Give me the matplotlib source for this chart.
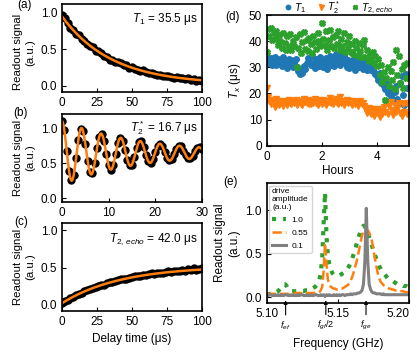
import numpy as np
import matplotlib
matplotlib.use('Agg')
import matplotlib.pyplot as plt

plt.rcParams['font.family'] = ['Liberation Sans', 'DejaVu Sans']
plt.rcParams['font.size'] = 8.5
plt.rcParams['mathtext.fontset'] = 'custom'
plt.rcParams['mathtext.rm'] = 'Liberation Sans'
plt.rcParams['mathtext.it'] = 'Liberation Sans:italic'
plt.rcParams['xtick.direction'] = 'in'
plt.rcParams['ytick.direction'] = 'in'
plt.rcParams['xtick.major.size'] = 3
plt.rcParams['ytick.major.size'] = 3
plt.rcParams['axes.linewidth'] = 1.2

# ---- (a) T1 decay ----
t_a = np.arange(0, 101, 2)
sig_a = [0.97, 0.93, 0.86, 0.79, 0.77, 0.71, 0.69, 0.64, 0.62, 0.57,
         0.55, 0.53, 0.48, 0.47, 0.45, 0.41, 0.40, 0.36, 0.36, 0.33,
         0.32, 0.31, 0.28, 0.28, 0.25, 0.26, 0.23, 0.22, 0.20, 0.21,
         0.19, 0.17, 0.18, 0.16, 0.15, 0.15, 0.14, 0.13, 0.13, 0.12,
         0.11, 0.12, 0.10, 0.11, 0.09, 0.10, 0.08, 0.09, 0.07, 0.08, 0.07]
T1 = 35.5

# ---- (b) Ramsey ----
t_b = np.arange(0, 30.01, 0.5)
sig_b = [1.10, 0.97, 0.68, 0.39, 0.26, 0.33, 0.57, 0.83, 0.99, 0.96,
         0.77, 0.53, 0.37, 0.36, 0.50, 0.71, 0.88, 0.92, 0.81, 0.63,
         0.47, 0.41, 0.48, 0.63, 0.79, 0.86, 0.82, 0.69, 0.55, 0.47,
         0.48, 0.59, 0.71, 0.80, 0.81, 0.73, 0.62, 0.53, 0.51, 0.56,
         0.66, 0.75, 0.78, 0.74, 0.66, 0.58, 0.54, 0.56, 0.63, 0.70,
         0.75, 0.74, 0.68, 0.62, 0.57, 0.57, 0.61, 0.67, 0.72, 0.73, 0.70]
T2s = 16.7
ramsey_period = 4.2

# ---- (c) echo ----
t_c = np.arange(0, 101, 2)
sig_c = [0.02, 0.05, 0.06, 0.09, 0.10, 0.13, 0.15, 0.16, 0.18, 0.20,
         0.21, 0.22, 0.24, 0.25, 0.27, 0.27, 0.29, 0.30, 0.31, 0.32,
         0.33, 0.34, 0.35, 0.35, 0.36, 0.37, 0.38, 0.38, 0.39, 0.40,
         0.40, 0.41, 0.42, 0.41, 0.43, 0.43, 0.43, 0.44, 0.45, 0.44,
         0.46, 0.45, 0.46, 0.47, 0.45, 0.48, 0.47, 0.49, 0.47, 0.48, 0.49]
T2e = 42.0

# ---- (d) stability over time ----
hours = np.arange(0, 5.11, 0.05)
t1_hist = [34.0, 31.5, 32.8, 33.5, 31.0, 32.2, 34.0, 30.8, 33.0, 31.8,
           32.5, 30.5, 33.8, 31.2, 32.0, 29.8, 33.2, 31.5, 32.6, 30.2,
           31.8, 33.0, 30.0, 28.5, 27.6, 29.2, 28.0, 30.6, 29.5, 31.8,
           33.5, 32.0, 30.8, 34.5, 31.6, 29.8, 33.0, 32.2, 30.5, 34.0,
           32.8, 30.0, 31.5, 33.6, 29.2, 32.0, 34.2, 31.0, 33.0, 30.4,
           35.0, 32.5, 33.8, 31.0, 36.0, 33.2, 34.5, 31.8, 30.2, 32.6,
           29.8, 31.5, 30.5, 32.8, 29.0, 31.2, 33.0, 30.0, 32.2, 31.0,
           29.5, 32.0, 30.8, 28.8, 31.5, 30.2, 29.0, 31.0, 28.2, 27.5,
           26.5, 25.0, 27.8, 24.0, 25.5, 23.0, 21.5, 24.5, 20.0, 22.5,
           19.0, 21.0, 17.5, 20.5, 23.0, 18.0, 16.5, 24.0, 26.5, 19.5,
           15.5, 27.5, 22.0]
t2s_hist = [22.0, 18.5, 17.0, 15.8, 17.5, 16.2, 14.8, 17.8, 16.0, 15.5,
            17.2, 16.5, 15.2, 17.0, 16.8, 15.5, 17.6, 16.2, 15.8, 17.0,
            16.4, 17.5, 15.6, 16.8, 17.2, 16.0, 15.4, 17.8, 16.6, 16.2,
            17.4, 16.0, 15.8, 17.0, 16.5, 18.0, 16.2, 15.6, 17.3, 16.8,
            16.0, 17.6, 16.4, 15.5, 17.0, 16.8, 18.2, 16.3, 15.8, 17.4,
            16.6, 17.8, 16.0, 18.8, 16.5, 17.2, 15.6, 16.9, 17.5, 16.2,
            17.0, 16.4, 15.5, 17.2, 16.0, 16.8, 15.2, 16.5, 17.0, 15.8,
            16.2, 15.0, 13.8, 12.6, 14.5, 13.0, 12.0, 14.2, 11.5, 13.5,
            12.5, 14.0, 11.0, 13.2, 12.2, 14.8, 13.0, 16.2, 12.0, 15.0,
            16.8, 13.5, 11.8, 15.5, 12.8, 14.2, 16.5, 12.5, 11.2, 15.8,
            13.0, 16.5, 12.2]
t2e_hist = [36.0, 44.5, 42.0, 45.0, 40.5, 43.2, 41.0, 44.0, 38.5, 42.5,
            40.0, 37.5, 43.0, 39.2, 36.5, 41.8, 38.0, 42.6, 36.8, 40.2,
            38.0, 41.5, 30.0, 37.2, 42.8, 35.5, 39.8, 43.5, 37.0, 40.6,
            36.2, 41.2, 38.8, 35.5, 42.0, 39.5, 37.0, 43.0, 40.2, 38.0,
            46.8, 41.0, 38.5, 43.8, 36.8, 40.5, 44.2, 38.2, 41.5, 37.5,
            42.5, 39.0, 44.0, 36.5, 41.0, 38.2, 43.2, 35.8, 39.5, 37.2,
            41.8, 36.0, 38.8, 35.2, 40.0, 37.5, 34.5, 39.2, 36.2, 33.8,
            38.5, 40.5, 34.0, 36.8, 32.5, 35.5, 33.0, 36.0, 31.8, 34.5,
            30.5, 33.2, 27.0, 31.0, 24.5, 28.2, 17.5, 26.0, 30.0, 22.8,
            28.5, 25.0, 32.0, 21.5, 36.5, 27.0, 34.5, 24.0, 29.5, 22.0,
            30.8, 26.0, 31.5]

# ---- (e) spectroscopy ----
freq = np.arange(5.100, 5.2005, 0.001)
spec_10 = [0.03, 0.03, 0.04, 0.04, 0.04, 0.05, 0.05, 0.06, 0.07, 0.09,
           0.11, 0.13, 0.15, 0.15, 0.13, 0.10, 0.08, 0.07, 0.07, 0.07,
           0.07, 0.07, 0.07, 0.07, 0.07, 0.07, 0.07, 0.08, 0.08, 0.08,
           0.09, 0.09, 0.10, 0.11, 0.12, 0.14, 0.16, 0.20, 0.28, 0.45,
           0.85, 1.20, 0.70, 0.48, 0.38, 0.32, 0.28, 0.26, 0.25, 0.25,
           0.25, 0.25, 0.26, 0.27, 0.28, 0.29, 0.31, 0.33, 0.36, 0.40,
           0.44, 0.49, 0.54, 0.60, 0.66, 0.71, 0.76, 0.80, 0.82, 0.81,
           0.78, 0.74, 0.69, 0.64, 0.59, 0.54, 0.49, 0.44, 0.40, 0.36,
           0.33, 0.30, 0.28, 0.26, 0.24, 0.22, 0.21, 0.20, 0.19, 0.18,
           0.17, 0.16, 0.15, 0.15, 0.14, 0.14, 0.13, 0.13, 0.13, 0.12, 0.12]
spec_055 = [0.04, 0.04, 0.04, 0.04, 0.04, 0.04, 0.04, 0.04, 0.04, 0.04,
            0.04, 0.04, 0.04, 0.04, 0.04, 0.04, 0.04, 0.04, 0.04, 0.04,
            0.05, 0.05, 0.05, 0.05, 0.05, 0.05, 0.05, 0.05, 0.05, 0.05,
            0.05, 0.05, 0.05, 0.05, 0.05, 0.05, 0.05, 0.06, 0.08, 0.12,
            0.30, 0.62, 0.38, 0.20, 0.15, 0.12, 0.11, 0.10, 0.10, 0.09,
            0.09, 0.09, 0.10, 0.10, 0.11, 0.12, 0.13, 0.14, 0.16, 0.19,
            0.23, 0.28, 0.34, 0.40, 0.47, 0.55, 0.63, 0.71, 0.76, 0.78,
            0.78, 0.77, 0.74, 0.70, 0.64, 0.55, 0.45, 0.36, 0.28, 0.22,
            0.18, 0.16, 0.14, 0.13, 0.12, 0.11, 0.10, 0.10, 0.09, 0.09,
            0.08, 0.08, 0.08, 0.07, 0.07, 0.07, 0.07, 0.06, 0.06, 0.06, 0.06]
spec_01 = [0.03, 0.02, 0.03, 0.03, 0.02, 0.02, 0.03, 0.02, 0.03, 0.02,
           0.03, 0.02, 0.02, 0.03, 0.03, 0.02, 0.02, 0.03, 0.02, 0.03,
           0.02, 0.02, 0.03, 0.02, 0.03, 0.03, 0.02, 0.02, 0.03, 0.02,
           0.02, 0.03, 0.02, 0.02, 0.03, 0.03, 0.02, 0.02, 0.03, 0.02,
           0.03, 0.01, 0.03, 0.02, 0.03, 0.02, 0.02, 0.03, 0.02, 0.03,
           0.02, 0.03, 0.02, 0.03, 0.03, 0.02, 0.03, 0.03, 0.03, 0.04,
           0.03, 0.04, 0.04, 0.04, 0.05, 0.05, 0.06, 0.08, 0.15, 0.42,
           1.02, 0.42, 0.15, 0.09, 0.06, 0.05, 0.05, 0.04, 0.04, 0.04,
           0.04, 0.03, 0.04, 0.03, 0.03, 0.03, 0.03, 0.03, 0.03, 0.03,
           0.03, 0.03, 0.03, 0.03, 0.03, 0.03, 0.03, 0.03, 0.03, 0.03, 0.03]
f_ge = 5.1698
f_ef = 5.1133
arrow_freqs = [f_ef, (f_ge + f_ef) / 2, f_ge]
arrow_labels = [r'$f_{ef}$', r'$f_{gf}/2$', r'$f_{ge}$']

W, H = 417, 355
fig = plt.figure(figsize=(W / 100, H / 100), dpi=100)


def box(left, top, right, bottom):
    return [left / W, 1 - bottom / H, (right - left) / W, (bottom - top) / H]


ax_a = fig.add_axes(box(62, 4, 202, 92))
ax_b = fig.add_axes(box(62, 114, 202, 202))
ax_c = fig.add_axes(box(62, 223, 202, 311))
ax_d = fig.add_axes(box(266.7, 15, 409, 145.7))
ax_e = fig.add_axes(box(266.7, 183, 409, 303))

orange = '#ff7f0e'

# (a)
ax_a.plot(t_a, sig_a, 'o', color='k', ms=5)
tf = np.linspace(0, 100, 400)
ax_a.plot(tf, 0.02 + 0.93 * np.exp(-tf / T1), color=orange, lw=1.8)
ax_a.set_xlim(0, 100)
ax_a.set_ylim(-0.085, 1.12)
ax_a.set_xticks([0, 25, 50, 75, 100])
ax_a.set_yticks([0, 0.5, 1.0])
ax_a.text(0.97, 0.83, r'$T_1$ = %.1f μs' % T1, transform=ax_a.transAxes,
          ha='right', va='center')

# (b)
ax_b.plot(t_b, sig_b, 'o', color='k', ms=5)
tf = np.linspace(0, 30, 600)
ax_b.plot(tf, 0.65 + 0.45 * np.exp(-tf / T2s) * np.cos(2 * np.pi * tf / ramsey_period),
          color=orange, lw=1.8)
ax_b.set_xlim(0, 30)
ax_b.set_ylim(-0.05, 1.2)
ax_b.set_xticks([0, 10, 20, 30])
ax_b.set_yticks([0, 0.5, 1.0])
ax_b.text(0.97, 0.84, r'$T_2^*$ = %.1f μs' % T2s, transform=ax_b.transAxes,
          ha='right', va='center')

# (c)
ax_c.plot(t_c, sig_c, 'o', color='k', ms=5)
tf = np.linspace(0, 100, 400)
ax_c.plot(tf, 0.52 - 0.5 * np.exp(-tf / T2e), color=orange, lw=1.8)
ax_c.set_xlim(0, 100)
ax_c.set_ylim(-0.085, 1.1)
ax_c.set_xticks([0, 25, 50, 75, 100])
ax_c.set_yticks([0, 0.5, 1.0])
ax_c.set_xlabel('Delay time (μs)')
ax_c.text(0.97, 0.82, r'$T_{2,\,echo}$ = %.1f μs' % T2e, transform=ax_c.transAxes,
          ha='right', va='center')

ax_a.set_ylabel('Readout signal\n(a.u.)', fontsize=8.2, y=0.45)
for ax in (ax_b, ax_c):
    ax.set_ylabel('Readout signal\n(a.u.)', fontsize=8.2)

# (d)
ax_d.plot(hours, t1_hist, 'o', color='tab:blue', ms=4, ls='none', label=r'$T_1$')
ax_d.plot(hours, t2s_hist, 'v', color='tab:orange', ms=4.5, ls='none', label=r'$T_2^*$')
ax_d.plot(hours, t2e_hist, 'X', color='tab:green', ms=3.8, ls='none', label=r'$T_{2,\,echo}$')
ax_d.set_xlim(0, 5.17)
ax_d.set_ylim(0, 50)
ax_d.set_xticks([0, 2, 4])
ax_d.set_yticks([0, 10, 20, 30, 40, 50])
ax_d.set_xlabel('Hours', labelpad=2)
ax_d.set_ylabel(r'$T_x$ (μs)')
ax_d.legend(loc='lower center', bbox_to_anchor=(0.5, 0.985), ncol=3, frameon=False,
            fontsize=7.5, borderaxespad=0, borderpad=0.1, handletextpad=0.1,
            columnspacing=0.9, markerscale=0.8, handlelength=1.0)

# (e)
ax_e.plot(freq, spec_10, ls=':', color='tab:green', lw=3, label='1.0')
ax_e.plot(freq, spec_055, ls='--', color=orange, lw=1.8, label='0.55')
ax_e.plot(freq, spec_01, ls='-', color='gray', lw=2.2, label='0.1')
ax_e.set_xlim(5.10, 5.20)
ax_e.set_ylim(-0.065, 1.31)
ax_e.set_xticks([5.10, 5.15, 5.20])
ax_e.set_xticklabels(['5.10', '5.15', '5.20'])
ax_e.get_xticklabels()[-1].set_horizontalalignment('right')
ax_e.set_yticks([0, 0.5, 1.0])
ax_e.set_ylabel('Readout signal\n(a.u.)')
ax_e.set_xlabel('Frequency (GHz)', labelpad=13)
ax_e.legend(loc='upper left', title='drive\namplitude\n(a.u.)', fontsize=6,
            title_fontsize=6, alignment='left', borderaxespad=0.3, borderpad=0.35,
            handlelength=1.7, handletextpad=0.6, labelspacing=0.6)
for f0, lab in zip(arrow_freqs, arrow_labels):
    ax_e.annotate(lab, xy=(f0, -0.035), xytext=(0, -18), textcoords='offset points',
                  ha='center', va='center', fontsize=6.5, annotation_clip=False,
                  arrowprops=dict(arrowstyle='-|>', color='k', lw=0.8,
                                  mutation_scale=5, shrinkA=1, shrinkB=0))

# panel letters
for lab, (px, py) in zip(['(a)', '(b)', '(c)', '(d)', '(e)'],
                         [(24, 5), (21, 113), (21, 222), (233, 17), (231, 182)]):
    fig.text(px / W, 1 - py / H, lab, ha='center', va='center')

fig.savefig('out.png', dpi=100)
